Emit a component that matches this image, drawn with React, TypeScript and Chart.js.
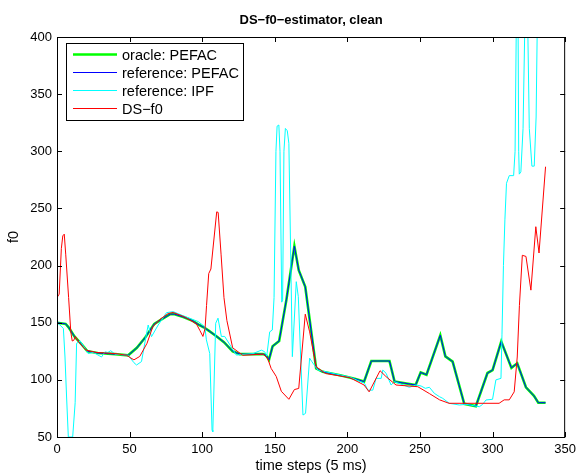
import React, { useEffect, useRef } from "react";
import { Chart, registerables } from "chart.js";

Chart.register(...registerables);

const TITLE = "DS−f0−estimator, clean";
const X_LABEL = "time steps (5 ms)";
const Y_LABEL = "f0";
const SERIES_NAMES = ["oracle: PEFAC", "reference: PEFAC", "reference: IPF", "DS−f0"];
const SERIES_COLORS = ["#00ff00", "#0000ff", "#00ffff", "#ff0000"];
const SERIES_WIDTHS = [2.6, 1, 1, 1];

const X_TICKS = [0, 50, 100, 150, 200, 250, 300, 350];
const Y_TICKS = [50, 100, 150, 200, 250, 300, 350, 400];

const oracleX = [0, 6, 8, 12, 17, 21, 28, 40, 49, 55, 61, 67, 72, 78, 81, 87, 93, 98, 101, 104, 110, 115, 121, 126, 135, 142, 144, 146, 148.5, 153, 158, 163.5, 166.5, 171, 178.5, 183, 195, 205, 211.5, 216.5, 229, 232.5, 247, 250.5, 254.5, 264, 267.5, 272.5, 280.5, 288.5, 296.5, 300, 306, 313, 317, 323, 328.5, 331.5, 336.5];
const oracleY = [150, 149, 146, 138, 131, 125, 123.5, 122.5, 121.5, 128, 137.5, 149, 153, 157.5, 157.5, 155, 152, 148, 146, 143.5, 138, 133, 125, 122.5, 122.5, 122.5, 121.5, 117.5, 129.5, 134, 170, 217, 196, 181.5, 110, 107, 104, 101, 98.5, 116.5, 116.5, 98.5, 95.5, 106.5, 104.5, 139, 120.5, 116, 79, 77, 106, 108.5, 133.5, 110.5, 114.5, 93.5, 86, 80, 80];

const refPefacX = [0, 6, 8, 12, 17, 21, 28, 40, 49, 55, 61, 67, 72, 78, 81, 87, 93, 98, 101, 104, 110, 115, 121, 126, 135, 142, 144, 146, 148.5, 153, 158, 163.5, 166.5, 171, 178.5, 183, 195, 205, 211.5, 216.5, 229, 232.5, 247, 250.5, 254.5, 264, 267.5, 272.5, 280.5, 288.5, 296.5, 300, 306, 313, 317, 323, 328.5, 331.5, 336.5];
const refPefacY = [150, 149, 146, 138, 131, 125, 123.5, 122.5, 121.5, 128, 137.5, 149, 153, 157.5, 157.5, 155, 152, 148, 146, 143.5, 138, 133, 125, 122.5, 122.5, 122.5, 121.5, 117.5, 129.5, 134, 170, 217, 196, 181.5, 110, 107, 104, 101, 98.5, 116.5, 116.5, 98.5, 95.5, 106.5, 104.5, 139, 120.5, 116, 79, 77, 106, 108.5, 133.5, 110.5, 114.5, 93.5, 86, 80, 80];

const ipfX = [0, 2, 4.4, 5.5, 6.6, 7.8, 10.8, 12.5, 13.5, 16, 21.5, 25, 30.7, 33, 35, 37, 40, 49, 53, 54.8, 58.2, 61.7, 62.8, 65.1, 69.7, 75.4, 80, 85.7, 97.2, 101.8, 102.9, 105.2, 106.8, 107.3, 109.3, 110.9, 113.2, 115.5, 123.5, 135, 140.8, 143, 144.5, 146.5, 148.3, 149.5, 150.8, 151.6, 152.8, 153.6, 154.8, 155.4, 156.3, 157.3, 158.6, 159.7, 162.1, 164.8, 166.2, 169.4, 171.2, 174, 175.5, 179.7, 201.5, 211.8, 214.1, 217.5, 219.8, 223.3, 224.4, 226.7, 230.1, 232.4, 242.7, 247.3, 250.8, 253.7, 256.5, 259.9, 263.4, 265.7, 270.2, 277.1, 281.7, 290.9, 293.2, 295.5, 300, 302.3, 305.8, 306.5, 307.5, 308.5, 309.6, 311.5, 314.5, 315.5, 316.5, 317.5, 318, 318.4, 319.5, 321, 322.5, 324, 325.3, 327.1, 328.7, 330, 331, 335];
const ipfY = [150, 148, 145, 120, 85, 50, 50, 80, 132, 134, 123, 124, 120, 124.5, 124, 125.5, 122.5, 121.5, 115, 113, 116, 140.7, 148, 137.8, 148, 158.8, 159.7, 156.7, 151, 146.5, 135, 123, 56, 54.5, 149.5, 154, 138, 138, 121.7, 123, 126, 124.6, 121, 142, 143.6, 172, 300, 322, 323, 300, 168, 170, 300, 320, 318, 307, 120.3, 185.9, 172.8, 69.2, 70.7, 119, 116, 108.6, 102.5, 97, 91, 91, 101.3, 101.3, 108.6, 105.7, 95.5, 98.4, 93.5, 95.5, 94.6, 92.6, 93.5, 88.2, 85.3, 83.8, 79.5, 78, 78.6, 76.5, 78.6, 82.4, 83, 100, 101.3, 140, 200, 240, 272, 278.7, 278.7, 300, 430, 430, 300, 280, 282, 320, 430, 430, 320, 287, 287, 330, 430, 430];

const dsX = [0, 1.5, 3, 4, 5, 6, 8, 9.5, 10.5, 11.5, 12.6, 15, 20, 27, 40, 48, 51, 53, 57, 62, 66, 71, 76.5, 80, 88, 96, 98.5, 100.5, 102, 103, 104.5, 106, 110, 111, 113, 115, 117, 121, 128, 142, 145, 147.5, 151, 154.5, 159.7, 163.5, 166.5, 171, 174, 178.5, 185, 201.5, 211.5, 215, 222.5, 226.5, 233.5, 248.5, 256.5, 263.5, 270, 304.5, 308, 311.5, 314.9, 317, 318.5, 320.5, 323, 326.4, 329.8, 332, 336.5];
const dsY = [172, 175, 215, 226, 227.5, 210, 172, 142, 134, 134.5, 138, 133, 126, 124, 123, 121.5, 119, 117.5, 120.5, 132, 146.5, 153, 158, 159, 155, 149, 143, 138, 145, 165, 193, 197, 247, 246.5, 210, 172, 152, 128, 121.5, 122.5, 119, 110, 103, 90, 83, 91.5, 92.5, 157.5, 142, 111.5, 105.5, 102, 95.5, 89.5, 108, 103, 95.5, 94, 88, 82.5, 79.5, 79.5, 82.5, 82.5, 89.5, 120, 165, 209, 208, 178.5, 234, 211, 286.5];

const FONT = '"Liberation Sans", Arial, Helvetica, sans-serif';

function pts(xs: number[], ys: number[]) {
  return xs.map((x, i) => ({ x, y: ys[i] }));
}

const matlabPlugin = {
  id: "matlabFrame",
  afterDatasetsDraw(chart: any) {
    const ctx = chart.ctx as CanvasRenderingContext2D;
    const { left, right, top, bottom } = chart.chartArea;
    const xs = chart.scales.x;
    const ys = chart.scales.y;
    ctx.save();
    ctx.strokeStyle = "#000";
    ctx.lineWidth = 1;
    ctx.strokeRect(left + 0.5, top + 0.5, right - left - 1, bottom - top);
    const tl = 5;
    ctx.beginPath();
    X_TICKS.forEach((v) => {
      const px = Math.round(xs.getPixelForValue(v)) + 0.5;
      ctx.moveTo(px, bottom);
      ctx.lineTo(px, bottom - tl);
      ctx.moveTo(px, top);
      ctx.lineTo(px, top + tl);
    });
    Y_TICKS.forEach((v) => {
      const py = Math.round(ys.getPixelForValue(v)) + 0.5;
      ctx.moveTo(left, py);
      ctx.lineTo(left + tl, py);
      ctx.moveTo(right, py);
      ctx.lineTo(right - tl, py);
    });
    ctx.stroke();

    // legend
    const lx = 66, ly = 43, lw = 177, lh = 77;
    ctx.fillStyle = "#fff";
    ctx.fillRect(lx, ly, lw, lh);
    ctx.strokeStyle = "#000";
    ctx.lineWidth = 1;
    ctx.strokeRect(lx + 0.5, ly + 0.5, lw, lh);
    ctx.font = `14.5px ${FONT}`;
    ctx.textBaseline = "middle";
    ctx.textAlign = "left";
    SERIES_NAMES.forEach((name, i) => {
      const y = 54.5 + i * 18;
      ctx.strokeStyle = SERIES_COLORS[i];
      ctx.lineWidth = SERIES_WIDTHS[i];
      ctx.beginPath();
      ctx.moveTo(73, y);
      ctx.lineTo(117, y);
      ctx.stroke();
      ctx.fillStyle = "#000";
      ctx.fillText(name, 122, y + 1);
    });

    // title & axis labels
    ctx.fillStyle = "#000";
    ctx.textAlign = "center";
    ctx.font = `bold 13px ${FONT}`;
    ctx.fillText(TITLE, (left + right) / 2, 20);
    ctx.font = `14.5px ${FONT}`;
    ctx.fillText(X_LABEL, (left + right) / 2, 466);
    ctx.translate(14, (top + bottom) / 2);
    ctx.rotate(-Math.PI / 2);
    ctx.fillText(Y_LABEL, 0, 0);
    ctx.restore();
  },
};

export default function App() {
  const ref = useRef<HTMLCanvasElement | null>(null);
  useEffect(() => {
    if (!ref.current) return;
    const raw = [
      pts(oracleX, oracleY),
      pts(refPefacX, refPefacY),
      pts(ipfX, ipfY),
      pts(dsX, dsY),
    ];
    const chart = new Chart(ref.current, {
      type: "line",
      data: {
        datasets: raw.map((d, i) => ({
          label: SERIES_NAMES[i],
          data: d,
          borderColor: SERIES_COLORS[i],
          backgroundColor: SERIES_COLORS[i],
          borderWidth: SERIES_WIDTHS[i],
          pointRadius: 0,
          tension: 0,
          fill: false,
          clip: 0,
          order: 4 - i,
        })),
      },
      options: {
        responsive: false,
        animation: false,
        devicePixelRatio: 1,
        layout: { padding: { left: 0, top: 37, right: 15, bottom: 0 } },
        plugins: { legend: { display: false }, tooltip: { enabled: false }, title: { display: false } },
        scales: {
          x: {
            type: "linear",
            min: 0,
            max: 350,
            afterFit: (s: any) => { s.height = 39; },
            afterBuildTicks: (s: any) => { s.ticks = X_TICKS.map((v) => ({ value: v })); },
            grid: { display: false, drawTicks: false },
            border: { display: false },
            ticks: { color: "#000", padding: 5, font: { size: 13, family: FONT }, maxRotation: 0 },
          },
          y: {
            type: "linear",
            min: 50,
            max: 400,
            afterFit: (s: any) => { s.width = 57; },
            afterBuildTicks: (s: any) => { s.ticks = Y_TICKS.map((v) => ({ value: v })); },
            grid: { display: false, drawTicks: false },
            border: { display: false },
            ticks: { color: "#000", padding: 5, font: { size: 13, family: FONT } },
          },
        },
      },
      plugins: [matlabPlugin],
    });
    return () => chart.destroy();
  }, []);
  return (
    <div style={{ position: "fixed", left: 0, top: 0, width: 581, height: 476, background: "#fff" }}>
      <canvas ref={ref} width={581} height={476} style={{ width: 581, height: 476 }} />
    </div>
  );
}
